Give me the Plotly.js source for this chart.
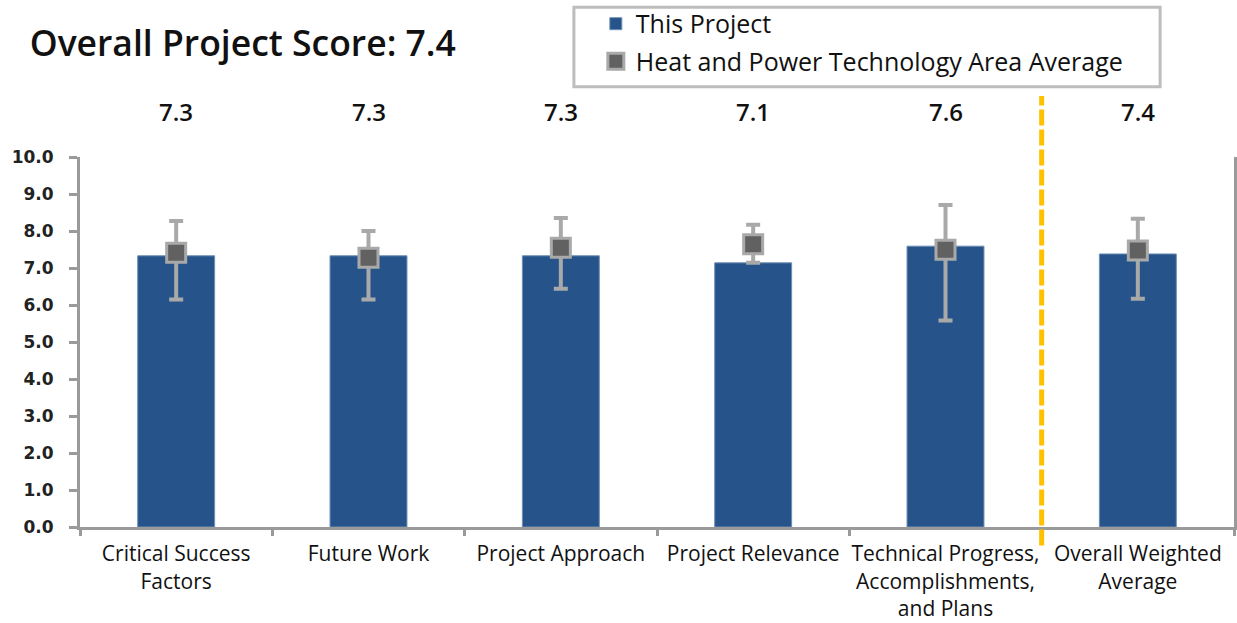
<!DOCTYPE html>
<html>
<head>
<meta charset="utf-8">
<script src="https://cdn.plot.ly/plotly-3.0.1.min.js"></script>
<style>
  html, body { margin: 0; padding: 0; background: #fff; }
  #chart { width: 1237px; height: 623px; }
</style>
</head>
<body>
<div id="chart"></div>
<script>
// criteria on the x axis
const categories = [
  'Critical Success<br>Factors',
  'Future Work',
  'Project Approach',
  'Project Relevance',
  'Technical Progress,<br>Accomplishments,<br>and Plans',
  'Overall Weighted<br>Average',
];

// this project's scores (bars)
const projectScores = [7.33, 7.33, 7.33, 7.14, 7.59, 7.38];

// technology area average, with its high / low range
const areaAverage = [7.41, 7.28, 7.55, 7.64, 7.49, 7.47];
const areaHigh = [8.27, 8.0, 8.35, 8.17, 8.7, 8.33];
const areaLow = [6.15, 6.15, 6.44, 7.14, 5.58, 6.17];

const overallScore = 7.4;

const labelFont = '"Open Sans", Lato, sans-serif';

const bars = {
  x: categories,
  y: projectScores,
  type: 'bar',
  name: 'This Project',
  legendgroup: 'a',
  marker: { color: '#26538A', line: { color: '#6F8FB5', width: 1 } },
  hoverinfo: 'y',
};

const avg = {
  x: categories,
  y: areaAverage,
  type: 'scatter',
  mode: 'markers',
  name: 'Heat and Power Technology Area Average',
  legendgroup: 'b',
  marker: { symbol: 'square', size: 19, color: '#616161', line: { color: '#A9A9A9', width: 3 } },
  error_y: {
    type: 'data',
    symmetric: false,
    array: areaHigh.map((h, i) => h - areaAverage[i]),
    arrayminus: areaLow.map((l, i) => areaAverage[i] - l),
    color: '#A9A9A9',
    thickness: 4,
    width: 7,
  },
};

// score labels above each column
const scoreLabels = categories.map((c, i) => ({
  x: c,
  y: 1.124,
  xref: 'x',
  yref: 'paper',
  yanchor: 'middle',
  text: projectScores[i].toFixed(1),
  showarrow: false,
  font: { family: labelFont, size: 24, color: '#111', weight: 600 },
}));

const layout = {
  width: 1237,
  height: 623,
  margin: { l: 80, r: 3, t: 156, b: 96 },
  paper_bgcolor: '#fff',
  plot_bgcolor: '#fff',
  bargap: 0.6,
  title: {
    text: 'Overall Project Score: ' + overallScore.toFixed(1),
    x: 0.024,
    xanchor: 'left',
    y: 0.93,
    yanchor: 'middle',
    font: { family: labelFont, size: 35.5, color: '#111', weight: 600 },
  },
  showlegend: true,
  legend: {
    x: 0.447,
    y: 1.418,
    xanchor: 'left',
    yanchor: 'top',
    traceorder: 'grouped',
    tracegroupgap: 2,
    borderwidth: 0,
    bgcolor: 'rgba(0,0,0,0)',
    font: { family: labelFont, size: 25, color: '#111' },
  },
  xaxis: {
    type: 'category',
    showline: true,
    linecolor: '#9A9A9A',
    linewidth: 3,
    ticks: 'outside',
    tickson: 'boundaries',
    ticklen: 6,
    tickwidth: 3,
    tickcolor: '#9A9A9A',
    ticklabelstandoff: 6,
    tickangle: 0,
    showgrid: false,
    tickfont: { family: labelFont, size: 21, color: '#111' },
    fixedrange: true,
  },
  yaxis: {
    range: [0, 10],
    dtick: 1,
    tickformat: '.1f',
    showline: true,
    mirror: true,
    linecolor: '#9A9A9A',
    linewidth: 3,
    ticks: 'outside',
    ticklen: 8,
    tickwidth: 3,
    tickcolor: '#9A9A9A',
    ticklabelstandoff: 12,
    showgrid: false,
    zeroline: false,
    tickfont: { family: '"DejaVu Sans", sans-serif', size: 17, color: '#222', weight: 'bold' },
    fixedrange: true,
  },
  annotations: scoreLabels,
  shapes: [
    // legend frame
    {
      type: 'rect', xref: 'paper', yref: 'paper',
      x0: 0.428, x1: 0.936, y0: 1.19, y1: 1.405,
      line: { color: '#BDBDBD', width: 3 },
    },
    // divider before the weighted average
    {
      type: 'line', xref: 'x', yref: 'paper',
      x0: 4.5, x1: 4.5, y0: -0.05, y1: 1.165,
      line: { color: '#FFC000', width: 5, dash: '16px,4px' },
    },
  ],
};

Plotly.newPlot('chart', [bars, avg], layout, { displayModeBar: false, staticPlot: true });
</script>
</body>
</html>
